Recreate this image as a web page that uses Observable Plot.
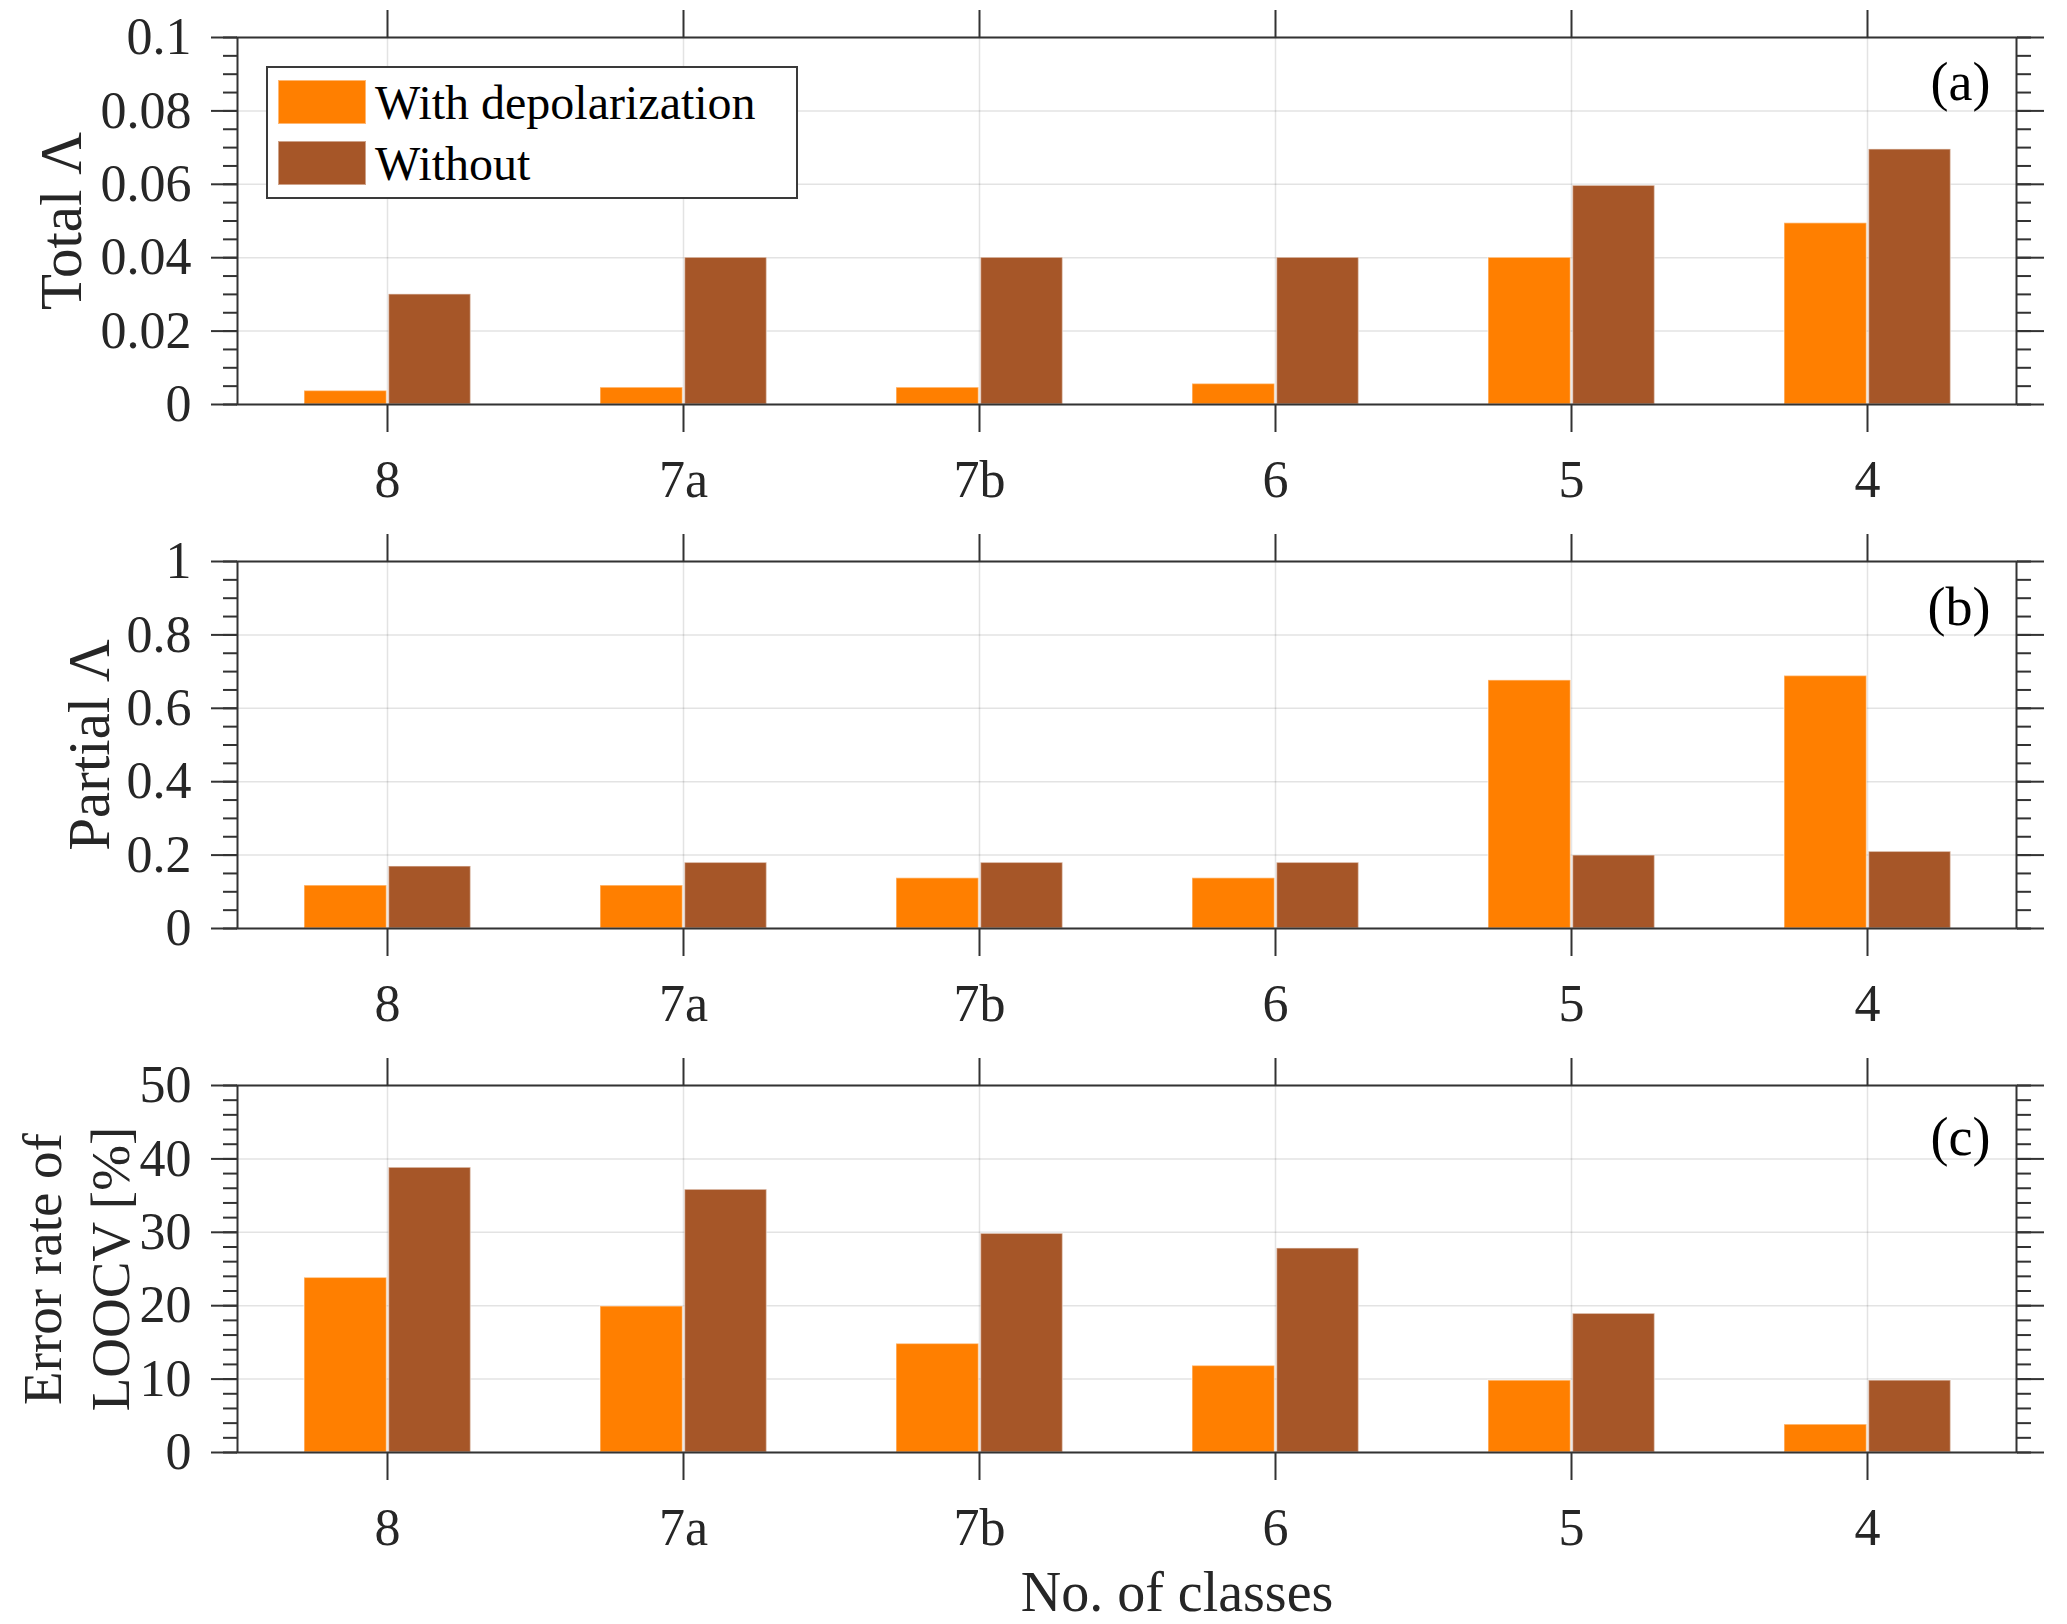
<!DOCTYPE html>
<html>
<head>
<meta charset="utf-8">
<script src="https://cdn.jsdelivr.net/npm/d3@7"></script>
<script src="https://cdn.jsdelivr.net/npm/@observablehq/plot@0.6"></script>
<style>
  html, body { margin: 0; padding: 0; background: #fff; overflow: hidden; }
  #chart { position: relative; width: 2067px; height: 1624px; background: #fff; }
  #chart svg { display: block; }
  #legend {
    position: absolute; left: 266px; top: 66px; width: 528px; height: 129px;
    border: 2px solid #3a3a3a; background: #fff; box-sizing: content-box;
    font-family: "Liberation Serif", "Times New Roman", serif; font-size: 48px; color: #000;
  }
  .lg-row { position: absolute; left: 0; height: 45px; }
  .lg-sw { position: absolute; left: 10px; top: 0; width: 88px; height: 44px; box-sizing: border-box; border: 1.5px solid rgba(255,255,255,0.45); }
  .lg-tx { position: absolute; left: 107px; top: -3px; line-height: 52px; white-space: nowrap; }
</style>
</head>
<body>
<div id="chart"></div>
<script>
// ---------------- data ----------------
const categories = ["8", "7a", "7b", "6", "5", "4"];
const seriesNames = ["With depolarization", "Without"];

const totalWith     = [0.0037, 0.0046, 0.0046, 0.0056, 0.040, 0.0494];
const totalWithout  = [0.030, 0.040, 0.040, 0.040, 0.0596, 0.0695];

const partialWith    = [0.117, 0.117, 0.137, 0.137, 0.676, 0.688];
const partialWithout = [0.169, 0.179, 0.179, 0.179, 0.199, 0.209];

const errorWith    = [23.8, 19.9, 14.8, 11.8, 9.8, 3.8];
const errorWithout = [38.8, 35.8, 29.8, 27.8, 18.9, 9.8];

const totalTicks   = [0, 0.02, 0.04, 0.06, 0.08, 0.1];
const partialTicks = [0, 0.2, 0.4, 0.6, 0.8, 1];
const errorTicks   = [0, 10, 20, 30, 40, 50];

const yLabels = ["Total Λ", "Partial Λ", "Error rate of\nLOOCV [%]"];
const panelTags = ["(a)", "(b)", "(c)"];
const xTitle = "No. of classes";

const colorWith = "#FF7F00";
const colorWithout = "#A65628";

// ---------------- helpers ----------------
const rows = (arr) => categories.map((c, i) => ({cat: c, value: arr[i]}));
const AXIS = "#333333";
const TEXT = "#262626";
const FONT = "Liberation Serif, Times New Roman, serif";

function panel({w, wo, domain, majors, minorStep, ylabel, ylabelDx, ylabelSize, tag, tagDy, height, marginBottom, xtitle}) {
  const minors = d3.range(domain[0], domain[1] + minorStep / 2, minorStep);
  const marks = [
    Plot.gridY(majors, {stroke: TEXT, strokeOpacity: 0.13, strokeWidth: 1.5}),
    Plot.gridX(categories, {stroke: TEXT, strokeOpacity: 0.13, strokeWidth: 1.5}),
    Plot.barY(rows(w), {x: "cat", y: "value", fill: colorWith, insetLeft: 65, insetRight: 148.5,
      stroke: "white", strokeOpacity: 0.45, strokeWidth: 1.5}),
    Plot.barY(rows(wo), {x: "cat", y: "value", fill: colorWithout, insetLeft: 149.5, insetRight: 64.5,
      stroke: "white", strokeOpacity: 0.45, strokeWidth: 1.5}),
    Plot.frame({stroke: AXIS, strokeWidth: 2}),
    // left axis
    Plot.axisY({anchor: "left", ticks: minors, tickSize: 14, tickFormat: () => "", label: null, stroke: AXIS, strokeWidth: 2}),
    Plot.axisY({anchor: "left", ticks: majors, tickSize: 26, tickPadding: 20, tickFormat: (d) => String(d),
      label: null, stroke: AXIS, fill: TEXT, strokeWidth: 2, fontSize: 52, fontFamily: FONT}),
    // right axis
    Plot.axisY({anchor: "right", ticks: minors, tickSize: 14, tickFormat: () => "", label: null, stroke: AXIS, strokeWidth: 2}),
    Plot.axisY({anchor: "right", ticks: majors, tickSize: 27, tickFormat: () => "", label: null, stroke: AXIS, strokeWidth: 2}),
    // x axes
    Plot.axisX({anchor: "top", tickSize: 28, tickFormat: () => "", label: null, stroke: AXIS, strokeWidth: 2}),
    Plot.axisX({anchor: "bottom", tickSize: 28, tickPadding: 28, label: null, stroke: AXIS, fill: TEXT,
      strokeWidth: 2, fontSize: 52, fontFamily: FONT}),
    // y label
    Plot.text([ylabel], {text: (d) => d, frameAnchor: "left", rotate: -90, dx: ylabelDx, textAnchor: "middle",
      lineAnchor: "middle", lineHeight: 1.23, fontSize: ylabelSize, fontFamily: FONT, fill: TEXT}),
    // panel tag
    Plot.text([tag], {text: (d) => d, frameAnchor: "top-right", textAnchor: "end", lineAnchor: "middle",
      dx: -26, dy: tagDy, fontSize: 54, fontFamily: FONT, fill: "#000"})
  ];
  if (xtitle) {
    marks.push(Plot.text([xtitle], {text: (d) => d, frameAnchor: "bottom", textAnchor: "middle", lineAnchor: "bottom",
      dx: 50, dy: 158, fontSize: 56, fontFamily: FONT, fill: TEXT}));
  }
  return Plot.plot({
    width: 2067,
    height,
    marginTop: 37,
    marginBottom,
    marginLeft: 237,
    marginRight: 51,
    style: {fontFamily: FONT, color: TEXT, background: "#fff", overflow: "visible"},
    x: {type: "band", domain: categories, padding: 0},
    y: {domain, nice: false},
    marks
  });
}

const chart = document.getElementById("chart");
chart.appendChild(panel({w: totalWith, wo: totalWithout, domain: [0, 0.1], majors: totalTicks, minorStep: 0.005,
  ylabel: yLabels[0], ylabelDx: -180, ylabelSize: 59, tag: panelTags[0], tagDy: 45, height: 524, marginBottom: 120}));
chart.appendChild(panel({w: partialWith, wo: partialWithout, domain: [0, 1], majors: partialTicks, minorStep: 0.05,
  ylabel: yLabels[1], ylabelDx: -152, ylabelSize: 59, tag: panelTags[1], tagDy: 46, height: 524, marginBottom: 120}));
chart.appendChild(panel({w: errorWith, wo: errorWithout, domain: [0, 50], majors: errorTicks, minorStep: 2,
  ylabel: yLabels[2], ylabelDx: -164, ylabelSize: 55, tag: panelTags[2], tagDy: 52, height: 576, marginBottom: 172, xtitle: xTitle}));

// legend
const legend = document.createElement("div");
legend.id = "legend";
[[seriesNames[0], colorWith, 12], [seriesNames[1], colorWithout, 73]].forEach(([name, col, top]) => {
  const row = document.createElement("div");
  row.className = "lg-row";
  row.style.top = top + "px";
  const sw = document.createElement("div");
  sw.className = "lg-sw";
  sw.style.background = col;
  const tx = document.createElement("div");
  tx.className = "lg-tx";
  tx.textContent = name;
  row.appendChild(sw);
  row.appendChild(tx);
  legend.appendChild(row);
});
chart.appendChild(legend);
</script>
</body>
</html>
